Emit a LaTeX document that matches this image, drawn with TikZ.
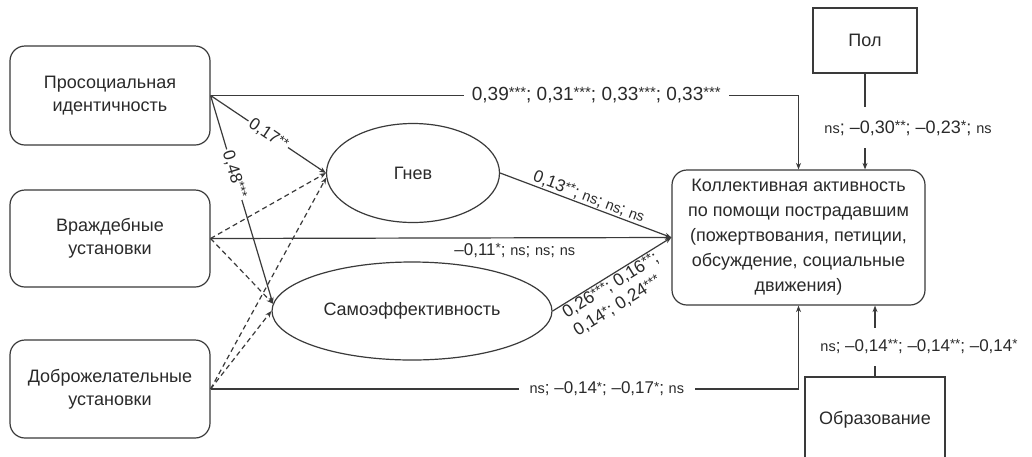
\documentclass[tikz,border=0pt]{standalone}
\usepackage{fontspec}
\usepackage{graphicx}
\setmainfont{Liberation Sans}
\usetikzlibrary{shapes.geometric,arrows.meta}
\definecolor{ln}{HTML}{3A3A3A}
\definecolor{tx}{HTML}{2A2A2A}
\newcommand{\sig}[1]{\raisebox{0.3ex}{\scalebox{0.78}{#1}}}
\newcommand{\nsx}{{\fontsize{14.5}{16}\selectfont ns}}
\begin{document}
\begin{tikzpicture}[x=1pt,y=-1pt,
  every node/.style={text=tx},
  rbox/.style={draw=ln, line width=1.2pt, rounded corners=15pt, align=center, font=\fontsize{18}{23}\selectfont, inner sep=0pt},
  sbox/.style={draw=ln, line width=1.2pt, align=center, font=\fontsize{18}{23}\selectfont, inner sep=0pt},
  ell/.style={ellipse, draw=ln, line width=1.2pt, font=\fontsize{18}{23}\selectfont, inner sep=0pt},
  arr/.style={draw=ln, line width=1.2pt, -{Stealth[length=6.5pt,width=5pt]}},
  darr/.style={arr, dash pattern=on 5pt off 3.5pt},
  lbl/.style={font=\fontsize{17}{20}\selectfont, inner sep=2pt},
]
\useasboundingbox (0,0) rectangle (1032,456);
\fill[white] (0,0) rectangle (1032,456);

\node[rbox, minimum width=200, minimum height=99] (pro) at (110,95.5) {Просоциальная\\идентичность};
\node[rbox, minimum width=200, minimum height=97] (vra) at (110,238.5) {Враждебные\\установки};
\node[rbox, minimum width=200, minimum height=98] (dob) at (110,389) {Доброжелательные\\установки};
\node[ell, minimum width=173, minimum height=99] (gnev) at (413,173) {Гнев};
\node[ell, minimum width=280, minimum height=98] (self) at (412,311) {Самоэффективность};
\node[rbox, minimum width=253, minimum height=135, font=\fontsize{18}{25}\selectfont] (col) at (798.5,237.5)
  {Коллективная активность\\по помощи пострадавшим\\(пожертвования, петиции,\\обсуждение, социальные\\движения)};
\node[sbox, minimum width=104, minimum height=65] (pol) at (865,40.5) {Пол};
\node[sbox, minimum width=140, minimum height=86] (edu) at (875,420) {Образование};

% dashed correlations
\draw[darr] (vra.east) -- (gnev.west);
\draw[darr] (vra.east) -- (self.177);
\draw[darr] (dob.east) -- (gnev.183);
\draw[darr] (dob.east) -- (self.west);

% solid paths
\draw[arr] (pro.east) -- node[lbl, sloped, fill=white, pos=0.5]{0,17\sig{**}} (gnev.west);
\draw[arr] (pro.east) -- node[lbl, sloped, fill=white, pos=0.38]{0,48\sig{***}} (self.177);
\draw[arr] (pro.east) -| node[lbl, fill=white, pos=0.328, inner xsep=8pt, font=\fontsize{19}{22}\selectfont]{0,39\sig{***}; 0,31\sig{***}; 0,33\sig{***}; 0,33\sig{***}} (col.north);
\draw[arr] (vra.east) -- node[lbl, below, inner sep=5pt, pos=0.66]{–0,11\sig{*}; \nsx; \nsx; \nsx} (col.west);
\draw[arr] (dob.east) -| node[lbl, fill=white, pos=0.337, inner xsep=11pt]{\nsx; –0,14\sig{*}; –0,17\sig{*}; \nsx} (col.south);
\draw[arr] (gnev.east) -- node[lbl, sloped, above, inner sep=1pt, pos=0.5]{0,13\sig{**}; \nsx; \nsx; \nsx} (col.west);
\draw[arr] (self.east) -- node[lbl, sloped, below, inner sep=1pt, pos=0.45, align=left, font=\fontsize{17.5}{21}\selectfont]{0,26\sig{***}; 0,16\sig{**};\\0,14\sig{*}; 0,24\sig{***}} (col.west);
\draw[arr] (pol.south) -- node[lbl, fill=white, pos=0.567, xshift=43pt, inner ysep=13pt, font=\fontsize{18}{20}\selectfont]{\nsx; –0,30\sig{**}; –0,23\sig{*}; \nsx} (pol.south |- col.north);
\draw[arr] (edu.north) -- node[lbl, fill=white, pos=0.42, xshift=44pt, inner ysep=12pt]{\nsx; –0,14\sig{**}; –0,14\sig{**}; –0,14\sig{*}} (edu.north |- col.south);
\end{tikzpicture}
\end{document}
